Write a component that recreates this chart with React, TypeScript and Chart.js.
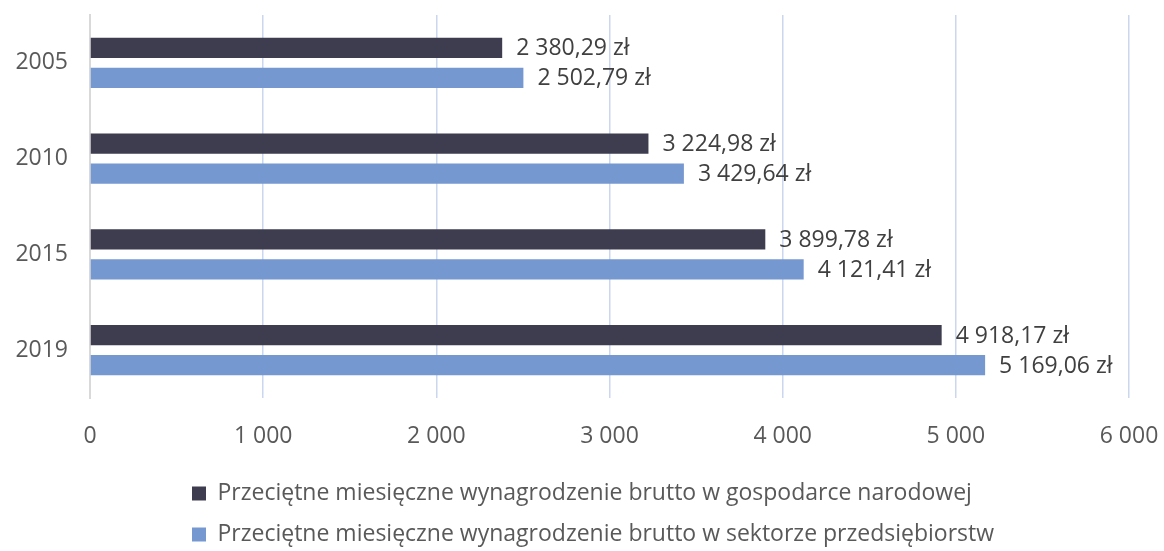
import React, { useEffect, useRef } from "react";
import { Chart, registerables } from "chart.js";

Chart.register(...registerables);

const categories = ["2005", "2010", "2015", "2019"];
const seriesNames = [
  "Przeciętne miesięczne wynagrodzenie brutto w gospodarce narodowej",
  "Przeciętne miesięczne wynagrodzenie brutto w sektorze przedsiębiorstw",
];
const gospodarka = [2380.29, 3224.98, 3899.78, 4918.17];
const przedsiebiorstwa = [2502.79, 3429.64, 4121.41, 5169.06];
const xTicks = [0, 1000, 2000, 3000, 4000, 5000, 6000];

const FONT = "'Open Sans', sans-serif";
const FS = 23;

function groupThousands(intPart: string): string {
  return intPart.replace(/\B(?=(\d{3})+(?!\d))/g, " ");
}
function fmtZl(v: number): string {
  const [i, d] = v.toFixed(2).split(".");
  return groupThousands(i) + "," + d + " zł";
}
function fmtTick(v: number): string {
  return groupThousands(String(Math.round(v)));
}

const labelPlugin = {
  id: "barLabels",
  afterLayout(chart: any) {
    const lg = chart.legend;
    if (lg) {
      const dx = 174 - lg.left;
      lg.left += dx;
      lg.right += dx;
      lg.top += 5;
      lg.bottom += 5;
    }
  },
  afterDatasetsDraw(chart: any) {
    const ctx = chart.ctx;
    ctx.save();
    ctx.font = `${FS}px ${FONT}`;
    ctx.fillStyle = "#404040";
    ctx.textBaseline = "middle";
    ctx.textAlign = "left";
    chart.data.datasets.forEach((ds: any, di: number) => {
      const meta = chart.getDatasetMeta(di);
      meta.data.forEach((el: any, i: number) => {
        ctx.fillText(fmtZl(ds.data[i]), el.x + 14, el.y + 1);
      });
    });
    ctx.restore();
  },
};

export default function App() {
  const ref = useRef<HTMLCanvasElement | null>(null);
  useEffect(() => {
    document.body.style.margin = "0";
    const chart = new Chart(ref.current!, {
      type: "bar",
      data: {
        labels: categories,
        datasets: [
          {
            label: seriesNames[0],
            data: gospodarka,
            backgroundColor: "#3E3D4F",
            categoryPercentage: 0.627,
            barPercentage: 0.667,
          },
          {
            label: seriesNames[1],
            data: przedsiebiorstwa,
            backgroundColor: "#7698D0",
            categoryPercentage: 0.627,
            barPercentage: 0.667,
          },
        ],
      },
      options: {
        indexAxis: "y",
        animation: false,
        responsive: false,
        maintainAspectRatio: false,
        layout: { padding: { top: 15, right: 35, left: 0, bottom: 0 } },
        scales: {
          x: {
            min: 0,
            max: 6000,
            afterBuildTicks: (scale: any) => {
              scale.ticks = xTicks.map((v) => ({ value: v }));
            },
            afterFit: (scale: any) => {
              scale.paddingLeft = 0;
              scale.paddingRight = 0;
              scale.height = 61;
            },
            grid: { color: "#CAD7EE", lineWidth: 1.5, drawTicks: false },
            border: { display: false },
            ticks: {
              padding: 25,
              color: "#595959",
              font: { family: FONT, size: FS },
              callback: (v: any) => fmtTick(Number(v)),
            },
          },
          y: {
            afterFit: (scale: any) => {
              scale.width = 90;
              scale.paddingTop = 0;
              scale.paddingBottom = 0;
            },
            grid: { display: false, drawTicks: false },
            border: { display: true, color: "#D9D9D9", width: 2 },
            ticks: {
              padding: 22,
              color: "#595959",
              font: { family: FONT, size: FS },
            },
          },
        },
        plugins: {
          legend: {
            position: "bottom",
            align: "start",
            labels: {
              boxWidth: 14,
              boxHeight: 14,
              padding: 18,
              color: "#595959",
              font: { family: FONT, size: FS },
            },
          },
          tooltip: { enabled: false },
        },
      },
      plugins: [labelPlugin],
    });
    return () => chart.destroy();
  }, []);
  return (
    <div style={{ width: 1164, height: 551, background: "#fff" }}>
      <canvas ref={ref} width={1164} height={551} />
    </div>
  );
}
